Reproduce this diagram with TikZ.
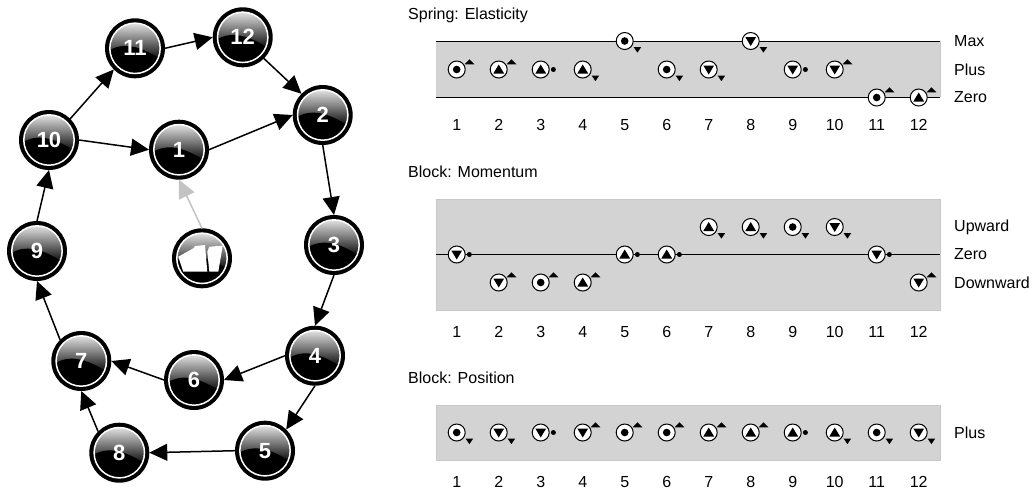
\documentclass[tikz,border=0pt]{standalone}
\usepackage{fontspec}
\usepackage{xcolor}
\usepackage{tikz}
\usetikzlibrary{arrows.meta}
\setmainfont{Liberation Sans}
\definecolor{bandgray}{RGB}{211, 211, 211}
\definecolor{bandedge}{RGB}{200, 200, 200}
\definecolor{glossgray}{RGB}{225, 225, 225}
\definecolor{feedgray}{RGB}{195, 195, 195}

\tikzset{
  statenode/.style={circle, minimum size=60pt, inner sep=0pt, outer sep=0pt,
    font=\fontsize{22}{22}\selectfont\bfseries, text=white},
  edgeline/.style={line width=1.5pt, -{Triangle[length=18pt,width=17pt]}},
  qcircle/.style={circle, draw=black, fill=white, line width=1pt, minimum size=17pt, inner sep=0pt},
  axislabel/.style={anchor=west, inner sep=0pt, font=\fontsize{16}{16}\selectfont},
  ticklabel/.style={font=\fontsize{16}{16}\selectfont},
  titlelabel/.style={anchor=west, inner sep=0pt, font=\fontsize{16}{16}\selectfont},
  band/.style={fill=bandgray, draw=bandedge, line width=1pt},
}

% ball behind a state: ring, gloss, black lower part
\newcommand{\stateball}[2]{%
  \begin{scope}[shift={(#1,#2)}]
  \fill[black] (0,0) circle (30);
  \begin{scope}
  \clip (0,0) circle (25);
  \shade[top color=glossgray, bottom color=black] (-26,-25) rectangle (26,12);
  \fill[black] (-27,3) .. controls (-14,-6) and (4,-4) .. (27,12) -- (27,27) -- (-27,27) -- cycle;
  \end{scope}
  \draw[white, line width=1.5pt] (0,0) circle (25.2);
  \end{scope}}

% magnitude mark and direction mark at (x,y)
\newcommand{\magmark}[3]{%
  \ifnum#3=0 \fill (#1,#2) circle (3.8);\fi
  \ifnum#3=1 \fill (#1-5.4,#2+4) -- (#1+5.4,#2+4) -- (#1,#2-5) -- cycle;\fi
  \ifnum#3=2 \fill (#1-5.4,#2-4) -- (#1+5.4,#2-4) -- (#1,#2+5) -- cycle;\fi}
\newcommand{\dirmark}[3]{%
  \ifnum#3=0 \fill (#1+12.7,#2) circle (2.5);\fi
  \ifnum#3=1 \fill (#1+8,#2-5.2) -- (#1+17.6,#2-5.2) -- (#1+12.7,#2-10.2) -- cycle;\fi
  \ifnum#3=2 \fill (#1+9,#2+6.2) -- (#1+16.4,#2+6.2) -- (#1+12.7,#2+11.6) -- cycle;\fi}

\begin{document}
\begin{tikzpicture}[x=1pt,y=-1pt]
\useasboundingbox (0,0) rectangle (1032,491);

% state graph
\foreach \i/\x/\y in {1/179/149.7, 2/322.7/115, 3/334/245, 4/315/355.7, 5/265/450.7, 6/194/380, 7/81.3/361, 8/119.3/452.7, 9/37/251, 10/49/140, 11/135/48.3, 12/242.7/37.3} {
  \stateball{\x}{\y}
  \node[statenode] (n\i) at (\x,\y) {\i};
}
\stateball{202}{258.3}
\node[statenode] (start) at (202,258.3) {};
\fill[white] (178.3,256.7) -- (193.3,248.3) -- (195,246) -- (205,245) -- (207.3,271.7) -- (183.3,271.7) -- cycle;
\fill[white] (207.3,251.7) -- (209.3,246.7) -- (222.7,245.7) -- (218.3,271.7) -- (209.3,271.7) -- cycle;

\foreach \a/\b in {n1.east/n2.west, n2.south/n3.north, n3.south/n4.north, n4.south/n5.north east, n4.west/n6.east, n5.west/n8.east, n6.west/n7.east, n8.north west/n7.south, n7.north west/n9.south, n9.north/n10.south, n10.east/n1.west, n10.north east/n11.south west, n11.east/n12.west, n12.south east/n2.north west}
  \draw[edgeline] (\a) -- (\b);
\draw[edgeline, draw=feedgray, fill=feedgray] (start.north) -- (n1.south);

% spring
\node[titlelabel] (springtitle) at (408,15) {Spring: Elasticity};
\fill[bandgray] (436,41) rectangle (940,97);
\draw[bandedge, line width=1pt] (940,41) -- (940,97);
\coordinate (sa) at (436,41);
\coordinate (sb) at (940,41);
\coordinate (sc) at (436,97);
\coordinate (sd) at (940,97);
\draw[line width=0.8pt] (sa) -- (sb);
\draw[line width=0.8pt] (sc) -- (sd);
\node[axislabel] (smax) at (954,41) {Max};
\node[axislabel] (splus) at (954,69.5) {Plus};
\node[axislabel] (szero) at (954,97.5) {Zero};
\foreach \i/\m/\d/\y in {1/0/1/69.5, 2/1/1/69.5, 3/1/0/69.5, 4/1/2/69.5, 5/0/2/41, 6/0/2/69.5, 7/2/2/69.5, 8/2/2/41, 9/2/0/69.5, 10/2/1/69.5, 11/0/1/97.5, 12/1/1/97.5} {
  \pgfmathsetmacro{\xx}{456.7+42*(\i-1)}
  \node[qcircle] (sp\i) at (\xx,\y) {};
  \magmark{\xx}{\y}{\m}
  \dirmark{\xx}{\y}{\d}
  \node[ticklabel] (stick\i) at (\xx,125) {\i};
}

% momentum
\node[titlelabel] (momtitle) at (408,172) {Block: Momentum};
\draw[band] (436,199) rectangle (940,310);
\coordinate (ma) at (436,254.5);
\coordinate (mb) at (940,254.5);
\draw[line width=0.8pt] (ma) -- (mb);
\node[axislabel] (mup) at (954,227) {Upward};
\node[axislabel] (mzero) at (954,254.5) {Zero};
\node[axislabel] (mdown) at (954,282.5) {Downward};
\foreach \i/\m/\d/\y in {1/2/0/254.5, 2/2/1/282.5, 3/0/1/282.5, 4/1/1/282.5, 5/1/0/254.5, 6/1/0/254.5, 7/1/2/227, 8/1/2/227, 9/0/2/227, 10/2/2/227, 11/2/0/254.5, 12/2/1/282.5} {
  \pgfmathsetmacro{\xx}{456.7+42*(\i-1)}
  \node[qcircle] (mo\i) at (\xx,\y) {};
  \magmark{\xx}{\y}{\m}
  \dirmark{\xx}{\y}{\d}
  \node[ticklabel] (mtick\i) at (\xx,332) {\i};
}

% position
\node[titlelabel] (postitle) at (408,378) {Block: Position};
\draw[band] (436,405) rectangle (940,460);
\node[axislabel] (pplus) at (954,433) {Plus};
\foreach \i/\m/\d in {1/0/2, 2/2/2, 3/2/0, 4/2/1, 5/0/1, 6/0/1, 7/1/1, 8/1/1, 9/1/0, 10/1/2, 11/0/2, 12/2/2} {
  \pgfmathsetmacro{\xx}{456.7+42*(\i-1)}
  \node[qcircle] (po\i) at (\xx,432.5) {};
  \magmark{\xx}{432.5}{\m}
  \dirmark{\xx}{432.5}{\d}
  \node[ticklabel] (ptick\i) at (\xx,482) {\i};
}
\end{tikzpicture}
\end{document}
